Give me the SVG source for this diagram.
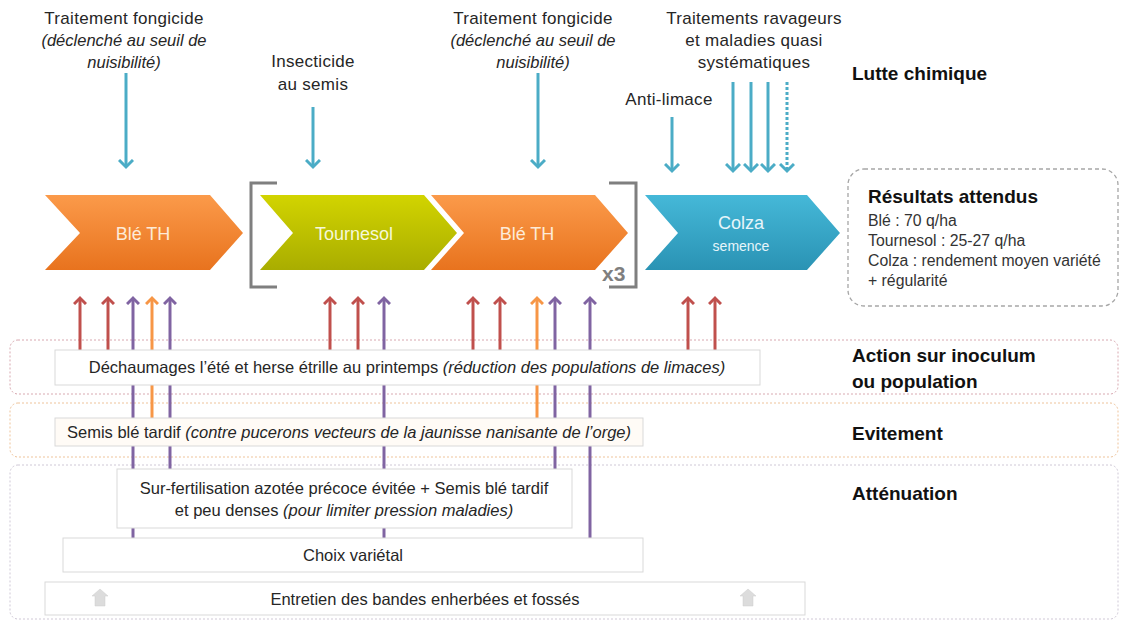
<svg xmlns="http://www.w3.org/2000/svg" width="1122" height="621" viewBox="0 0 1122 621">
<style>
text{font-family:"Liberation Sans",Arial,sans-serif;fill:#262626}
.lbl{font-size:17px;letter-spacing:0.3px;text-anchor:middle}
.it{font-style:italic;font-size:16.5px;letter-spacing:0}
.cat{font-size:19px;font-weight:bold;fill:#111}
.chev{font-size:18px;text-anchor:middle;fill:#fdebd8}
.sm{font-size:14px}
.box{fill:#fff;stroke:#d9d9d9;stroke-width:1}
.bt{font-size:16.5px;text-anchor:middle}
.bi{font-style:italic}
.res{font-size:15.8px;fill:#333}
.blue{stroke:#4bacc6;stroke-width:3;fill:none}
.red{stroke:#c0504d;stroke-width:3;fill:none}
.pur{stroke:#8064a2;stroke-width:3;fill:none}
.ora{stroke:#f79646;stroke-width:3;fill:none}
.brk{stroke:#7f7f7f;stroke-width:3;fill:none}
.ico{fill:#dcdcdc;stroke:#cfcfcf;stroke-width:0.5}
</style>
<defs>
<linearGradient id="gOr" x1="0" y1="0" x2="0" y2="1"><stop offset="0" stop-color="#fb9a4a"/><stop offset="1" stop-color="#e8731e"/></linearGradient>
<linearGradient id="gYe" x1="0" y1="0" x2="0" y2="1"><stop offset="0" stop-color="#d2d400"/><stop offset="1" stop-color="#a9ad00"/></linearGradient>
<linearGradient id="gBl" x1="0" y1="0" x2="0" y2="1"><stop offset="0" stop-color="#45b8d8"/><stop offset="1" stop-color="#2a93b4"/></linearGradient>
<marker id="hB" markerUnits="userSpaceOnUse" markerWidth="16" markerHeight="16" refX="8" refY="8" orient="auto"><path d="M1,1 L8,8 L1,15" fill="none" stroke="#4bacc6" stroke-width="3"/></marker>
<marker id="hR" markerUnits="userSpaceOnUse" markerWidth="14" markerHeight="14" refX="7" refY="7" orient="auto"><path d="M1,1 L7,7 L1,13" fill="none" stroke="#c0504d" stroke-width="3"/></marker>
<marker id="hP" markerUnits="userSpaceOnUse" markerWidth="14" markerHeight="14" refX="7" refY="7" orient="auto"><path d="M1,1 L7,7 L1,13" fill="none" stroke="#8064a2" stroke-width="3"/></marker>
<marker id="hO" markerUnits="userSpaceOnUse" markerWidth="14" markerHeight="14" refX="7" refY="7" orient="auto"><path d="M1,1 L7,7 L1,13" fill="none" stroke="#f79646" stroke-width="3"/></marker>
</defs>
<rect width="1122" height="621" fill="#fff"/>

<!-- bands -->
<g id="band-inoculum"><rect x="10" y="340" width="1108" height="54" rx="8" fill="#fff" stroke="#d8a8b0" stroke-width="1" stroke-dasharray="2,2"/></g>
<g id="band-evitement"><rect x="10" y="403" width="1108" height="54" rx="8" fill="#fff" stroke="#eec39a" stroke-width="1" stroke-dasharray="2,2"/></g>
<g id="band-attenuation"><rect x="10" y="465" width="1108" height="154" rx="8" fill="#fff" stroke="#cfc8d6" stroke-width="1" stroke-dasharray="2,2"/></g>

<!-- top labels -->
<g id="lab-fongi1">
<text class="lbl" x="124" y="24">Traitement fongicide</text>
<text class="lbl it" x="124" y="46">(déclenché au seuil de</text>
<text class="lbl it" x="124" y="68">nuisibilité)</text>
</g>
<g id="lab-insect">
<text class="lbl" x="313" y="67">Insecticide</text>
<text class="lbl" x="313" y="90">au semis</text>
</g>
<g id="lab-fongi2">
<text class="lbl" x="533" y="24">Traitement fongicide</text>
<text class="lbl it" x="533" y="46">(déclenché au seuil de</text>
<text class="lbl it" x="533" y="68">nuisibilité)</text>
</g>
<g id="lab-ravageurs">
<text class="lbl" x="754" y="24">Traitements ravageurs</text>
<text class="lbl" x="754" y="46">et maladies quasi</text>
<text class="lbl" x="754" y="68">systématiques</text>
</g>
<g id="lab-antilimace"><text class="lbl" x="669" y="105">Anti-limace</text></g>
<g id="lab-lutte"><text class="cat" x="852" y="80">Lutte chimique</text></g>

<!-- connectors -->
<g id="connectors">
<line class="blue" x1="126" y1="73" x2="126" y2="167" marker-end="url(#hB)"/>
<line class="blue" x1="313" y1="107" x2="313" y2="167" marker-end="url(#hB)"/>
<line class="blue" x1="538" y1="73" x2="538" y2="167" marker-end="url(#hB)"/>
<line class="blue" x1="672" y1="117" x2="672" y2="171" marker-end="url(#hB)"/>
<line class="blue" x1="733" y1="82" x2="733" y2="171" marker-end="url(#hB)"/>
<line class="blue" x1="751" y1="82" x2="751" y2="171" marker-end="url(#hB)"/>
<line class="blue" x1="768" y1="82" x2="768" y2="171" marker-end="url(#hB)"/>
<line class="blue" x1="787" y1="82" x2="787" y2="171" stroke-dasharray="3,2" marker-end="url(#hB)"/>

<line class="red" x1="80" y1="350" x2="80" y2="298" marker-end="url(#hR)"/>
<line class="red" x1="108" y1="350" x2="108" y2="298" marker-end="url(#hR)"/>
<line class="pur" x1="133" y1="538" x2="133" y2="298" marker-end="url(#hP)"/>
<line class="ora" x1="152" y1="418" x2="152" y2="298" marker-end="url(#hO)"/>
<line class="pur" x1="170" y1="469" x2="170" y2="298" marker-end="url(#hP)"/>

<line class="red" x1="330" y1="350" x2="330" y2="298" marker-end="url(#hR)"/>
<line class="red" x1="358" y1="350" x2="358" y2="298" marker-end="url(#hR)"/>
<line class="pur" x1="384" y1="538" x2="384" y2="298" marker-end="url(#hP)"/>

<line class="red" x1="473" y1="350" x2="473" y2="298" marker-end="url(#hR)"/>
<line class="red" x1="500" y1="350" x2="500" y2="298" marker-end="url(#hR)"/>
<line class="ora" x1="537" y1="418" x2="537" y2="298" marker-end="url(#hO)"/>
<line class="pur" x1="555" y1="469" x2="555" y2="298" marker-end="url(#hP)"/>
<line class="pur" x1="590" y1="538" x2="590" y2="298" marker-end="url(#hP)"/>

<line class="red" x1="688" y1="350" x2="688" y2="298" marker-end="url(#hR)"/>
<line class="red" x1="715" y1="350" x2="715" y2="298" marker-end="url(#hR)"/>
</g>

<!-- chevrons -->
<g id="ble1">
<polygon points="45,195 210,195 243,233 210,270 45,270 80,233" fill="url(#gOr)"/>
<text class="chev" x="143" y="240">Blé TH</text>
</g>
<g id="tournesol">
<polygon points="260,195 424,195 457,233 424,270 260,270 293,233" fill="url(#gYe)"/>
<text class="chev" x="354" y="240" style="fill:#f6f8d8">Tournesol</text>
</g>
<g id="ble2">
<polygon points="431,195 595,195 628,233 595,270 431,270 464,233" fill="url(#gOr)"/>
<text class="chev" x="527" y="240">Blé TH</text>
</g>
<g id="colza">
<polygon points="645,195 807,195 840,233 807,270 645,270 678,233" fill="url(#gBl)"/>
<text class="chev" x="741" y="229" style="fill:#e6f5fa">Colza</text>
<text class="chev sm" x="741" y="251" style="fill:#e6f5fa">semence</text>
</g>
<g id="bracket">
<path class="brk" d="M277,183 L251,183 L251,287 L277,287"/>
<path class="brk" d="M609,183 L636,183 L636,287 L609,287"/>
<text x="602" y="281" font-size="21" font-weight="bold" style="fill:#7f7f7f">x3</text>
</g>

<!-- results -->
<g id="resultats">
<rect x="848" y="169" width="270" height="137" rx="16" fill="#fff" stroke="#a6a6a6" stroke-width="1.3" stroke-dasharray="4,3"/>
<text x="868" y="203" font-size="19" font-weight="bold" style="fill:#111">Résultats attendus</text>
<text class="res" x="868" y="226">Blé : 70  q/ha</text>
<text class="res" x="868" y="246">Tournesol : 25-27  q/ha</text>
<text class="res" x="868" y="266">Colza : rendement moyen variété</text>
<text class="res" x="868" y="286">+ régularité</text>
</g>

<!-- boxes -->
<g id="dechaumages">
<rect class="box" x="55" y="350" width="705" height="35"/>
<text class="bt" x="407" y="373">Déchaumages l’été et herse étrille au printemps <tspan class="bi">(réduction des populations de limaces)</tspan></text>
</g>
<g id="semis">
<rect class="box" x="55" y="418" width="588" height="28" style="fill:#fffbf6"/>
<text class="bt" x="349" y="438">Semis blé tardif <tspan class="bi">(contre pucerons vecteurs de la jaunisse nanisante de l’orge)</tspan></text>
</g>
<g id="surfert">
<rect class="box" x="117" y="469" width="455" height="59"/>
<text class="bt" x="344" y="494">Sur-fertilisation azotée précoce évitée + Semis blé tardif</text>
<text class="bt" x="344" y="516">et peu denses  <tspan class="bi">(pour limiter pression maladies)</tspan></text>
</g>
<g id="choix">
<rect class="box" x="63" y="538" width="580" height="34"/>
<text class="bt" x="353" y="561">Choix variétal</text>
</g>
<g id="entretien">
<rect class="box" x="45" y="582" width="760" height="33"/>
<text class="bt" x="425" y="605">Entretien des bandes enherbées et fossés</text>
<polygon class="ico" points="100,589 108,596 105,596 105,606 95,606 95,596 92,596"/>
<polygon class="ico" points="748,589 756,596 753,596 753,606 743,606 743,596 740,596"/>
</g>

<!-- category labels -->
<g id="lab-action"><text class="cat" x="852" y="362">Action sur inoculum</text><text class="cat" x="852" y="388">ou population</text></g>
<g id="lab-evit"><text class="cat" x="852" y="440">Evitement</text></g>
<g id="lab-att"><text class="cat" x="852" y="500">Atténuation</text></g>
</svg>
